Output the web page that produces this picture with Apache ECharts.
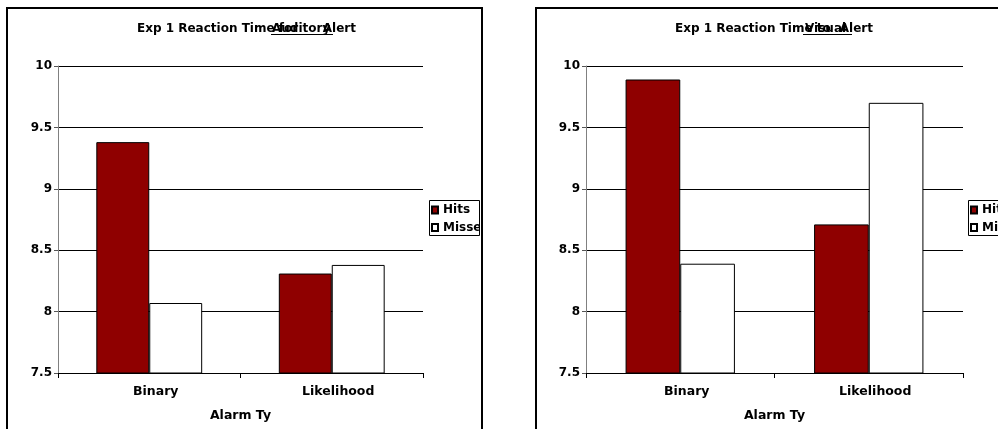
<!DOCTYPE html>
<html>
<head>
<meta charset="utf-8">
<script src="https://cdn.jsdelivr.net/npm/echarts@6/dist/echarts.min.js"></script>
<style>
html,body{margin:0;padding:0;background:#fff;}
#main{width:998px;height:429px;}
</style>
</head>
<body>
<div id="main"></div>
<script>
const categories = ['Binary', 'Likelihood'];
const seriesNames = ['Hits', 'Misses'];
const auditoryHits = [9.38, 8.31];
const auditoryMisses = [8.07, 8.38];
const visualHits = [9.89, 8.71];
const visualMisses = [8.39, 9.70];
const yMin = 7.5, yMax = 10, yStep = 0.5;
const axisName = 'Alarm Ty';

const FONT = 'DejaVu Sans';
const chart = echarts.init(document.getElementById('main'), null, {renderer: 'canvas'});

function xAxis(gi) {
  return {
    type: 'category', gridIndex: gi, data: categories,
    name: axisName, nameLocation: 'middle', nameGap: 36,
    nameTextStyle: {color: '#000', fontFamily: FONT, fontWeight: 'bold', fontSize: 12.5},
    axisLine: {lineStyle: {color: '#000', width: 1}},
    axisTick: {show: true, length: 5, lineStyle: {color: '#000'}},
    axisLabel: {color: '#000', fontFamily: FONT, fontWeight: 'bold', fontSize: 12.5, margin: 12, padding: [0, 0, 0, 13]},
    splitLine: {show: false}
  };
}
function yAxis(gi) {
  return {
    type: 'value', gridIndex: gi, min: yMin, max: yMax, interval: yStep,
    axisLine: {show: true, lineStyle: {color: '#808080', width: 1}},
    axisTick: {show: true, length: 4, lineStyle: {color: '#555'}},
    axisLabel: {color: '#000', fontFamily: FONT, fontWeight: 'bold', fontSize: 12, margin: 6},
    splitLine: {show: true, lineStyle: {color: '#000', width: 1}}
  };
}
function bar(name, data, gi, color) {
  return {
    type: 'bar', name: name, xAxisIndex: gi, yAxisIndex: gi, data: data,
    barGap: '0%', barCategoryGap: '42%',
    itemStyle: {color: color, borderColor: '#000', borderWidth: 1},
    emphasis: {disabled: true}, animation: false
  };
}
function legend(left) {
  return {
    data: seriesNames, orient: 'vertical', left: left, top: 200,
    padding: [4, 0, 2, 2], itemGap: 5.5, itemWidth: 6, itemHeight: 7,
    icon: 'rect', selectedMode: false,
    textStyle: {color: '#000', fontFamily: FONT, fontWeight: 'bold', fontSize: 12}
  };
}
function txt(x, y, text, align) {
  return {type: 'text', z: 10, style: {x: x, y: y, text: text, textAlign: align || 'left', textVerticalAlign: 'middle',
    font: 'bold 12px "' + FONT + '"', fill: '#000'}};
}

chart.setOption({
  backgroundColor: '#fff',
  animation: false,
  grid: [
    {left: 58, right: 575, top: 66, bottom: 56},
    {left: 586, right: 35, top: 66, bottom: 56}
  ],
  xAxis: [xAxis(0), xAxis(1)],
  yAxis: [yAxis(0), yAxis(1)],
  legend: [legend(429), legend(968)],
  series: [
    bar(seriesNames[0], auditoryHits, 0, '#8f0000'),
    bar(seriesNames[1], auditoryMisses, 0, '#ffffff'),
    bar(seriesNames[0], visualHits, 1, '#8f0000'),
    bar(seriesNames[1], visualMisses, 1, '#ffffff')
  ],
  graphic: [
    // clip legend text overflowing past the left panel
    {type: 'rect', z: 100, silent: true, shape: {x: 480, y: 190, width: 55, height: 55}, style: {fill: '#fff'}},
    {type: 'rect', z: 101, silent: true, shape: {x: 429.5, y: 200.5, width: 50, height: 35}, style: {fill: 'none', stroke: '#000', lineWidth: 1}},
    {type: 'rect', z: 101, silent: true, shape: {x: 968.5, y: 200.5, width: 50, height: 35}, style: {fill: 'none', stroke: '#000', lineWidth: 1}},
    {type: 'rect', z: 102, silent: true, shape: {x: 7, y: 8, width: 475, height: 440}, style: {fill: 'none', stroke: '#000', lineWidth: 2}},
    {type: 'rect', z: 102, silent: true, shape: {x: 536, y: 8, width: 480, height: 440}, style: {fill: 'none', stroke: '#000', lineWidth: 2}},
    txt(137, 29, 'Exp 1 Reaction Time for'),
    txt(356, 29, 'Alert', 'right'),
    txt(272, 29, 'Auditory'),
    {type: 'line', z: 11, shape: {x1: 271, y1: 34.5, x2: 333, y2: 34.5}, style: {stroke: '#000', lineWidth: 1.2}},
    txt(675, 29, 'Exp 1 Reaction Time to'),
    txt(873, 29, 'Alert', 'right'),
    txt(805, 29, 'Visual'),
    {type: 'line', z: 11, shape: {x1: 803, y1: 34.5, x2: 852, y2: 34.5}, style: {stroke: '#000', lineWidth: 1.2}}
  ]
});
</script>
</body>
</html>
